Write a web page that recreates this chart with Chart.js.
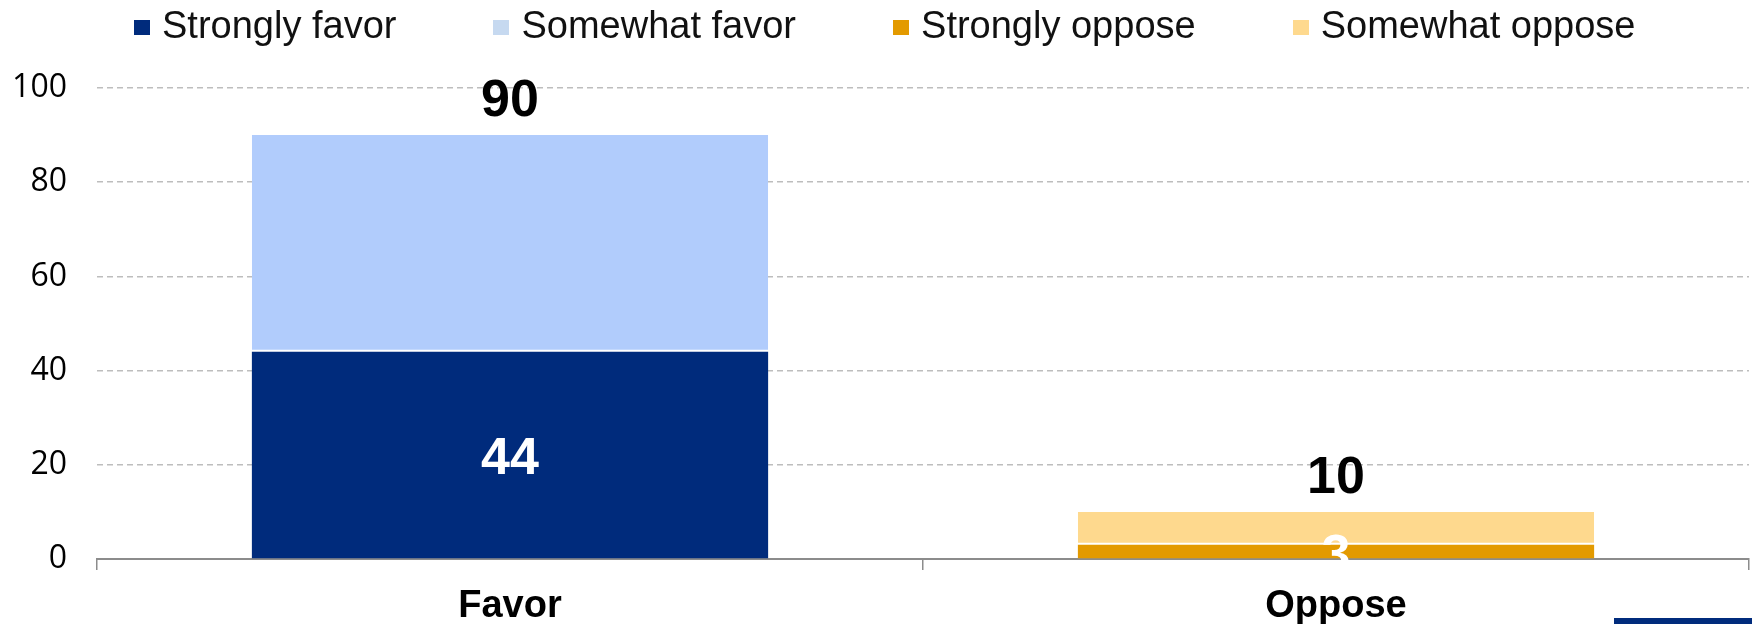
<!DOCTYPE html>
<html>
<head>
<meta charset="utf-8">
<script src="https://cdn.jsdelivr.net/npm/chart.js@4/dist/chart.umd.min.js"></script>
<style>
  html, body { margin: 0; padding: 0; background: #ffffff; }
  #wrap { position: relative; width: 1752px; height: 624px; overflow: hidden; background: #fff; }
  #chart { position: absolute; left: 0; top: 0; }
  #legend { position: absolute; left: 134px; top: 6px; display: flex; align-items: center; gap: 97px;
            font-family: "Liberation Sans", Arial, sans-serif; font-size: 38px; line-height: 38px; color: #111; white-space: nowrap; }
  .item { display: flex; align-items: center; }
  .sw { width: 16px; height: 15px; margin-right: 12px; margin-top: 4px; }
  #corner { position: absolute; left: 1614px; top: 618px; width: 138px; height: 6px; background: #002b7c; }
</style>
</head>
<body>
<div id="wrap">
  <canvas id="chart" width="1752" height="624"></canvas>
  <div id="legend"></div>
  <div id="corner"></div>
</div>
<script>
// ---- data ----
const categories = ['Favor', 'Oppose'];
const seriesNames = ['Strongly favor', 'Somewhat favor', 'Strongly oppose', 'Somewhat oppose'];
const stronglyFavor = [44, null];
const somewhatFavor = [46, null];
const stronglyOppose = [null, 3];
const somewhatOppose = [null, 7];
const yTicks = [0, 20, 40, 60, 80, 100];

// ---- styles ----
const barColors = ['#002b7c', '#b1ccfc', '#e39a00', '#fed98e'];
const swatchColors = ['#002b7c', '#c6d9f0', '#e39a00', '#fed98e'];
const labelledSeries = [0, 2]; // series that show their own value inside the bar

const seriesValues = [stronglyFavor, somewhatFavor, stronglyOppose, somewhatOppose];

const datasets = seriesValues.map((vals, i) => {
  const ds = {
    label: seriesNames[i],
    data: vals,
    backgroundColor: barColors[i],
    barPercentage: 0.625,
    categoryPercentage: 1.0,
    stack: 's'
  };
  if (i === 1 || i === 3) {
    ds.borderColor = '#ffffff';
    ds.borderWidth = { top: 0, left: 0, right: 0, bottom: 2 };
    ds.borderSkipped = false;
  }
  return ds;
});

// HTML legend
const legendEl = document.getElementById('legend');
seriesNames.forEach((name, i) => {
  const it = document.createElement('div');
  it.className = 'item';
  const sw = document.createElement('span');
  sw.className = 'sw';
  sw.style.background = swatchColors[i];
  const tx = document.createElement('span');
  tx.textContent = name;
  it.appendChild(sw);
  it.appendChild(tx);
  legendEl.appendChild(it);
});

const labelPlugin = {
  id: 'barLabels',
  afterDatasetsDraw(chart) {
    const ctx = chart.ctx;
    ctx.save();
    ctx.font = 'bold 52px "Liberation Sans", Arial, sans-serif';
    ctx.textAlign = 'center';
    ctx.textBaseline = 'middle';
    categories.forEach((cat, ci) => {
      let total = 0;
      let topEl = null;
      chart.data.datasets.forEach((ds, di) => {
        const v = ds.data[ci];
        if (v !== null && v !== undefined) {
          total += v;
          topEl = chart.getDatasetMeta(di).data[ci];
        }
      });
      if (topEl) {
        ctx.fillStyle = '#000000';
        ctx.fillText(String(total), topEl.x, topEl.y - 33);
      }
      labelledSeries.forEach(di => {
        const v = chart.data.datasets[di].data[ci];
        if (v !== null && v !== undefined) {
          const el = chart.getDatasetMeta(di).data[ci];
          ctx.fillStyle = '#ffffff';
          ctx.fillText(String(v), el.x, (el.y + el.base) / 2 + 5);
        }
      });
    });
    ctx.restore();
  }
};

new Chart(document.getElementById('chart'), {
  type: 'bar',
  data: { labels: categories, datasets: datasets },
  options: {
    responsive: false,
    animation: false,
    devicePixelRatio: 1,
    layout: { padding: { top: 88, left: 14, right: 3, bottom: 0 } },
    plugins: {
      legend: { display: false },
      tooltip: { enabled: false }
    },
    scales: {
      x: {
        stacked: true,
        afterFit: s => { s.height = 65; },
        grid: { offset: true, drawOnChartArea: false, drawTicks: true, tickLength: 11, color: '#8c8c8c', lineWidth: 1.5 },
        border: { display: true, color: '#8c8c8c', width: 2 },
        ticks: { color: '#000000', padding: 14, font: { family: '"Liberation Sans", Arial, sans-serif', size: 38, weight: 'bold' } }
      },
      y: {
        stacked: true,
        min: 0,
        max: 100,
        afterBuildTicks: s => { s.ticks = yTicks.map(v => ({ value: v })); },
        afterFit: s => { s.width = 83; },
        grid: { drawTicks: false, color: '#bdbdbd', lineWidth: 1.5 },
        border: { display: false, dash: [6, 4] },
        ticks: { color: '#000000', padding: 30, font: { family: '"Open Sans", sans-serif', size: 32 } }
      }
    }
  },
  plugins: [labelPlugin]
});
</script>
</body>
</html>
